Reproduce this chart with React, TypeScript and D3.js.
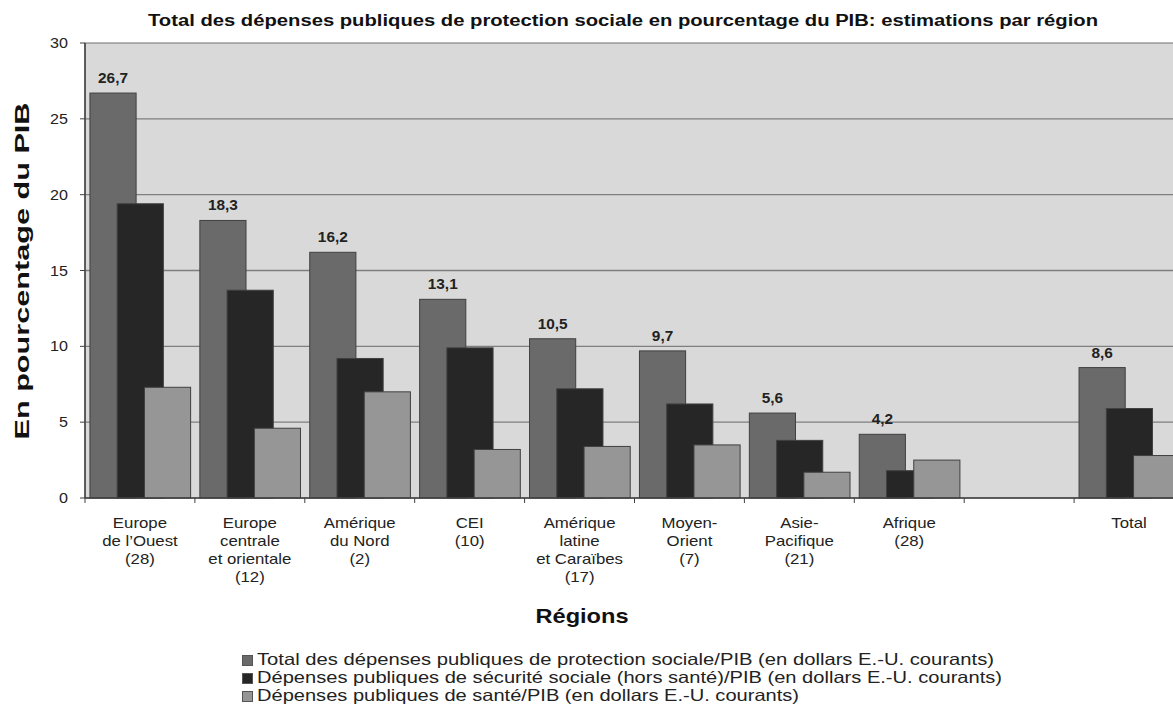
import React from "react";
import * as d3 from "d3";

const categories = [
  ["Europe", "de l’Ouest", "(28)"],
  ["Europe", "centrale", "et orientale", "(12)"],
  ["Amérique", "du Nord", "(2)"],
  ["CEI", "(10)"],
  ["Amérique", "latine", "et Caraïbes", "(17)"],
  ["Moyen-", "Orient", "(7)"],
  ["Asie-", "Pacifique", "(21)"],
  ["Afrique", "(28)"],
  [],
  ["Total"],
];
const totalValues = [26.7, 18.3, 16.2, 13.1, 10.5, 9.7, 5.6, 4.2, null, 8.6];
const socialValues = [19.4, 13.7, 9.2, 9.9, 7.2, 6.2, 3.8, 1.8, null, 5.9];
const healthValues = [7.3, 4.6, 7.0, 3.2, 3.4, 3.5, 1.7, 2.5, null, 2.8];
const yTicks = [0, 5, 10, 15, 20, 25, 30];
const seriesNames = [
  "Total des dépenses publiques de protection sociale/PIB (en dollars E.-U. courants)",
  "Dépenses publiques de sécurité sociale (hors santé)/PIB (en dollars E.-U. courants)",
  "Dépenses publiques de santé/PIB (en dollars E.-U. courants)",
];
const legendWidths = [737, 745, 542];
const seriesColors = ["#6a6a6a", "#262626", "#969696"];

export default function App() {
  const W = 1173, H = 704;
  const left = 85, right = 1184, top = 43, bottom = 498;
  const x = d3.scaleBand<number>().domain(categories.map((_, i) => i)).range([left, right]).padding(0);
  const y = d3.scaleLinear().domain([0, 30]).range([bottom, top]);
  const bw = x.bandwidth();
  const barW = bw * 0.42;
  const step = bw * 0.248;
  const off = bw * 0.045;
  const series = [totalValues, socialValues, healthValues];
  const font = "'Liberation Sans', Arial, sans-serif";

  return (
    <svg width={W} height={H} style={{ position: "absolute", left: 0, top: 0, background: "#fff" }} fontFamily={font}>
      <rect x={left} y={top} width={right - left} height={bottom - top} fill="#d9d9d9" stroke="#707070" strokeWidth={1} />
      {yTicks.map((t) => (
        <g key={t}>
          {t > 0 && t < 30 && <line x1={left} x2={right} y1={y(t)} y2={y(t)} stroke="#7f7f7f" strokeWidth={1.3} />}
          <line x1={left - 5} x2={left} y1={y(t)} y2={y(t)} stroke="#404040" />
          <text transform={`translate(68,${y(t)}) scale(1.15,1)`} dy="0.36em" textAnchor="end" fontSize={14} fill="#222">{t}</text>
        </g>
      ))}
      {series.map((vals, si) =>
        vals.map((v, i) =>
          v == null ? null : (
            <rect key={si + "-" + i} x={(x(i) as number) + off + si * step} y={y(v)} width={barW} height={bottom - y(v)}
              fill={seriesColors[si]} stroke="#404040" strokeWidth={1} />
          )
        )
      )}
      {totalValues.map((v, i) =>
        v == null ? null : (
          <text key={"l" + i} transform={`translate(${(x(i) as number) + off + barW / 2},${y(v) - 10}) scale(1.1,1)`} textAnchor="middle" fontSize={14} fontWeight="bold" fill="#222">
            {String(v.toFixed(1)).replace(".", ",")}
          </text>
        )
      )}
      <line x1={left} x2={right} y1={bottom} y2={bottom} stroke="#404040" strokeWidth={1.5} />
      <line x1={left} x2={left} y1={top} y2={bottom} stroke="#404040" strokeWidth={1.5} />
      {categories.map((_, i) => (
        <line key={"t" + i} x1={x(i) as number} x2={x(i) as number} y1={bottom} y2={bottom + 5} stroke="#404040" />
      ))}
      {categories.map((lines, i) => (
        <g key={"c" + i} transform={`translate(${(x(i) as number) + bw / 2},528) scale(1.2,1)`}>
          <text textAnchor="middle" fontSize={14} fill="#222">
            {lines.map((ln, j) => (
              <tspan key={j} x={0} dy={j === 0 ? 0 : 18}>{ln}</tspan>
            ))}
          </text>
        </g>
      ))}
      <text x={623} y={26} textAnchor="middle" fontSize={16} fontWeight="bold" fill="#111" textLength={950} lengthAdjust="spacingAndGlyphs">
        Total des dépenses publiques de protection sociale en pourcentage du PIB: estimations par région
      </text>
      <text transform={`translate(29,271) rotate(-90)`} textAnchor="middle" fontSize={21} fontWeight="bold" fill="#111" textLength={337} lengthAdjust="spacingAndGlyphs">
        En pourcentage du PIB
      </text>
      <text x={582} y={623} textAnchor="middle" fontSize={21} fontWeight="bold" fill="#111" textLength={93} lengthAdjust="spacingAndGlyphs">Régions</text>
      {seriesNames.map((name, i) => (
        <g key={"lg" + i}>
          <rect x={242.5} y={655.5 + i * 18} width={10} height={10} fill={seriesColors[i]} stroke="#555" strokeWidth={1} />
          <text x={257} y={665 + i * 18} fontSize={16.5} fill="#222" textLength={legendWidths[i]} lengthAdjust="spacingAndGlyphs">{name}</text>
        </g>
      ))}
    </svg>
  );
}
